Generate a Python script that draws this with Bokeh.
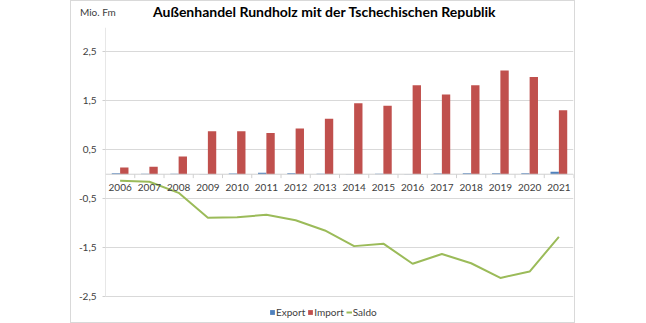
from bokeh.plotting import figure
from bokeh.models import (FactorRange, Range1d, FixedTicker, CustomJSTickFormatter,
                          Span, Legend, ColumnDataSource, Spacer, Div)
from bokeh.transform import dodge
from bokeh.layouts import row, column
from bokeh.core.properties import value
from bokeh.embed import file_html
from bokeh.resources import INLINE

years = [str(y) for y in range(2006, 2022)]
export = [0.02, 0.01, 0.01, 0.005, 0.015, 0.03, 0.02, 0.01, 0.005, 0.01, 0.005, 0.015, 0.02, 0.02, 0.02, 0.05]
imports = [0.14, 0.155, 0.36, 0.88, 0.88, 0.845, 0.935, 1.135, 1.45, 1.40, 1.82, 1.63, 1.82, 2.12, 1.99, 1.31]
saldo = [-0.135, -0.155, -0.38, -0.89, -0.88, -0.83, -0.94, -1.15, -1.47, -1.42, -1.83, -1.63, -1.82, -2.12, -1.99, -1.28]
y_ticks = [-2.5, -1.5, -0.5, 0.5, 1.5, 2.5]
y_min, y_max = -2.5, 3.0
title_text = "Außenhandel Rundholz mit der Tschechischen Republik"
unit_text = "Mio. Fm"

FONT = "Lato"
TXT = "#404040"
GRID = "#D9D9D9"
AXC = "#D0D0D0"

# layout geometry (pixels): plot frame spans 295 px, value axis spans 269 px of it
FRAME_H, AXIS_H = 295, 269
y_lo = y_max - (y_max - y_min) * FRAME_H / AXIS_H

src = ColumnDataSource(dict(year=years, export=export, imp=imports, saldo=saldo,
                            zero=[0.0] * len(years), tick=[-0.08] * len(years)))
axis_src = ColumnDataSource(dict(year=[years[0]], y0=[y_min], y1=[y_max]))

header = Div(width=503, height=26, margin=0, text=(
    '<div style="position:relative;width:503px;height:26px;font-family:Lato;">'
    f'<span style="position:absolute;left:9px;top:6px;font-size:10px;line-height:10px;color:{TXT};white-space:nowrap;">{unit_text}</span>'
    f'<span style="position:absolute;left:82px;top:4px;font-size:14px;line-height:14px;font-weight:bold;color:black;white-space:nowrap;">{title_text}</span>'
    '</div>'))

p = figure(width=503, height=FRAME_H, x_range=FactorRange(factors=years),
           y_range=Range1d(y_lo, y_max), output_backend="svg", toolbar_location=None,
           min_border_left=34, min_border_right=1, min_border_top=0, min_border_bottom=0)
p.outline_line_color = None
p.background_fill_color = "white"
p.border_fill_color = "white"

p.xaxis.visible = False
p.xgrid.visible = False

yax = p.yaxis[0]
yax.ticker = FixedTicker(ticks=y_ticks)
yax.formatter = CustomJSTickFormatter(code="return tick.toFixed(1).replace('.', ',');")
yax.axis_line_color = None
yax.major_tick_line_color = AXC
yax.major_tick_out = 3
yax.major_tick_in = 0
yax.minor_tick_line_color = None
yax.major_label_standoff = 6
yax.major_label_text_font = FONT
yax.major_label_text_font_size = "10px"
yax.major_label_text_color = TXT

p.ygrid.ticker = FixedTicker(ticks=y_ticks)
p.ygrid.grid_line_color = GRID

# value-axis line limited to the value range
p.segment(x0=dodge("year", -0.5, range=p.x_range), y0="y0",
          x1=dodge("year", -0.5, range=p.x_range), y1="y1",
          source=axis_src, line_color=AXC, line_width=1)

p.add_layout(Span(location=0, dimension="width", line_color=AXC, line_width=1))

p.segment(x0=dodge("year", 0.5, range=p.x_range), y0="zero",
          x1=dodge("year", 0.5, range=p.x_range), y1="tick",
          source=src, line_color=AXC, line_width=1)

bw = 1 / 3.5
r_exp = p.vbar(x=dodge("year", -bw / 2, range=p.x_range), top="export", bottom=0,
               width=bw, source=src, fill_color="#4F81BD", line_color=None)
r_imp = p.vbar(x=dodge("year", bw / 2, range=p.x_range), top="imp", bottom=0,
               width=bw, source=src, fill_color="#C0504D", line_color=None)
r_sal = p.line(x="year", y="saldo", source=src, line_color="#9BBB59", line_width=2)

p.text(x="year", y="zero", text="year", source=src, y_offset=13,
       text_align="center", text_baseline="middle",
       text_font=value(FONT), text_font_size="10px", text_color=TXT)

legend = Legend(items=[("Export", [r_exp]), ("Import", [r_imp]), ("Saldo", [r_sal])],
                orientation="horizontal", location=(164, 4),
                glyph_width=6, glyph_height=6, label_standoff=1, spacing=2,
                padding=0, margin=0, border_line_color=None, background_fill_alpha=0,
                label_text_font=FONT, label_text_font_size="10px", label_text_color=TXT)
p.add_layout(legend)

box = column(header, p, styles={"box-shadow": "0 0 0 1px #D9D9D9"})
inner = column(Spacer(width=503, height=1), box, Spacer(width=503, height=1))
layout = row(Spacer(width=71, height=323), inner, Spacer(width=3, height=323))
open("out.html", "w").write(file_html(layout, INLINE))
